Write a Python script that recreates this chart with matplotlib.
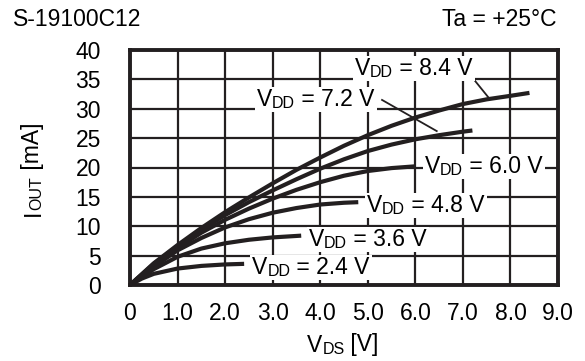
import matplotlib
matplotlib.use('Agg')
import matplotlib.pyplot as plt
from matplotlib.patches import Rectangle
from matplotlib.transforms import Bbox

plt.rcParams['font.family'] = ['Liberation Sans', 'DejaVu Sans']

# curves: V_DS [V] -> I_OUT [mA] for each V_DD
vdd_labels = ['8.4', '7.2', '6.0', '4.8', '3.6', '2.4']
vds_84 = [0, 0.5, 1, 1.5, 2, 2.5, 3, 3.5, 4, 4.5, 5, 5.5, 6, 6.5, 7, 7.5, 8, 8.4]
iout_84 = [0, 3.7, 6.8, 9.7, 12.4, 14.9, 17.3, 19.6, 21.7, 23.7, 25.5, 27.1, 28.5, 29.7, 30.8, 31.6, 32.2, 32.7]
vds_72 = [0, 0.5, 1, 1.5, 2, 2.5, 3, 3.5, 4, 4.5, 5, 5.5, 6, 6.5, 7, 7.2]
iout_72 = [0, 3.6, 6.6, 9.4, 11.9, 14.1, 16.1, 18.0, 19.8, 21.4, 22.8, 23.9, 24.8, 25.5, 26.1, 26.3]
vds_60 = [0, 0.5, 1, 1.5, 2, 2.5, 3, 3.5, 4, 4.5, 5, 5.5, 6]
iout_60 = [0, 3.4, 6.3, 8.9, 11.1, 13.0, 14.7, 16.2, 17.5, 18.6, 19.4, 19.9, 20.2]
vds_48 = [0, 0.5, 1, 1.5, 2, 2.5, 3, 3.5, 4, 4.5, 4.8]
iout_48 = [0, 3.1, 5.9, 8.0, 9.8, 11.2, 12.3, 13.1, 13.7, 14.0, 14.1]
vds_36 = [0, 0.5, 1, 1.5, 2, 2.5, 3, 3.6]
iout_36 = [0, 2.7, 4.8, 6.2, 7.1, 7.7, 8.1, 8.4]
vds_24 = [0, 0.25, 0.5, 1, 1.5, 2, 2.4]
iout_24 = [0, 1.1, 1.9, 2.8, 3.25, 3.5, 3.6]

x_ticks = [0, 1, 2, 3, 4, 5, 6, 7, 8, 9]
x_ticklabels = ['0', '1.0', '2.0', '3.0', '4.0', '5.0', '6.0', '7.0', '8.0', '9.0']
y_ticks = [0, 5, 10, 15, 20, 25, 30, 35, 40]

# label anchor (left edge, vertical centre) in data units
label_pos = [(4.73, 36.9), (2.67, 31.5), (6.20, 20.1), (4.98, 13.6), (3.76, 7.7), (2.57, 2.9)]
leaders = [([7.21, 7.53], [35.2, 32.0]), ([5.30, 6.45], [31.5, 26.2])]

ink = '#231f20'
big = 16.5
small = 11.5

fig = plt.figure(figsize=(5.85, 3.61), dpi=100)
ax = fig.add_axes([130 / 585, 76 / 361, 428 / 585, 235 / 361])

ax.set_xlim(0, 9)
ax.set_ylim(0, 40)
ax.set_xticks(x_ticks)
ax.set_xticklabels(x_ticklabels)
ax.set_yticks(y_ticks)
ax.tick_params(length=0, labelsize=big, colors='black')
ax.tick_params(axis='y', pad=21)
ax.tick_params(axis='x', pad=12)
ax.grid(True, color=ink, linewidth=1.6)
for s in ax.spines.values():
    s.set_linewidth(2.8)
    s.set_color(ink)

curves = [(vds_84, iout_84), (vds_72, iout_72), (vds_60, iout_60),
          (vds_48, iout_48), (vds_36, iout_36), (vds_24, iout_24)]
for xs, ys in curves:
    ax.plot(xs, ys, color=ink, linewidth=3.0, solid_capstyle='butt',
            solid_joinstyle='round', zorder=3)

for xs, ys in leaders:
    ax.plot(xs, ys, color=ink, linewidth=1.3, zorder=3)


def vlabel(x, y, val):
    t1 = ax.text(x, y, 'V', fontsize=big, va='center', ha='left', zorder=5)
    t2 = ax.annotate('DD', xy=(1, 0), xycoords=t1, va='bottom', ha='left',
                     fontsize=small, zorder=5)
    t3 = ax.annotate(' = ' + val + ' V', xy=(1, 0), xycoords=t2, va='bottom', ha='left',
                     fontsize=big, zorder=5)
    return [t1, t2, t3]


label_parts = [vlabel(x, y, v) for (x, y), v in zip(label_pos, vdd_labels)]

fig.text(13 / 585, 1 - 20 / 361, 'S-19100C12', fontsize=big, va='center', ha='left')
fig.text(557 / 585, 1 - 20 / 361, 'Ta = +25°C', fontsize=big, va='center', ha='right')

# x axis label: V_DS [V]
xa = fig.text(307 / 585, 1 - 345 / 361, 'V', fontsize=big, va='center', ha='left')
xb = ax.annotate('DS', xy=(1, 0), xycoords=xa, va='bottom', ha='left', fontsize=small)
ax.annotate(' [V]', xy=(1, 0), xycoords=xb, va='bottom', ha='left', fontsize=big)

# y axis label: I_OUT [mA], rotated
ya = fig.text(33 / 585, 1 - 216 / 361, 'I', fontsize=big, rotation=90, va='bottom', ha='center')
yb = ax.annotate('OUT', xy=(1, 1), xycoords=ya, va='bottom', ha='right', fontsize=small, rotation=90)
ax.annotate(' [mA]', xy=(1, 1), xycoords=yb, va='bottom', ha='right', fontsize=big, rotation=90)

# white backing behind each curve label (hides grid lines)
fig.canvas.draw()
renderer = fig.canvas.get_renderer()
inv = ax.transData.inverted()
for parts in label_parts:
    bb = Bbox.union([p.get_window_extent(renderer) for p in parts])
    bb = Bbox.from_extents(bb.x0 - 2, bb.y0 - 1, bb.x1 + 2, bb.y1 + 1)
    (dx0, dy0), (dx1, dy1) = inv.transform([[bb.x0, bb.y0], [bb.x1, bb.y1]])
    ax.add_patch(Rectangle((dx0, dy0), dx1 - dx0, dy1 - dy0, facecolor='white',
                           edgecolor='none', zorder=4))

fig.savefig('out.png', dpi=100)
